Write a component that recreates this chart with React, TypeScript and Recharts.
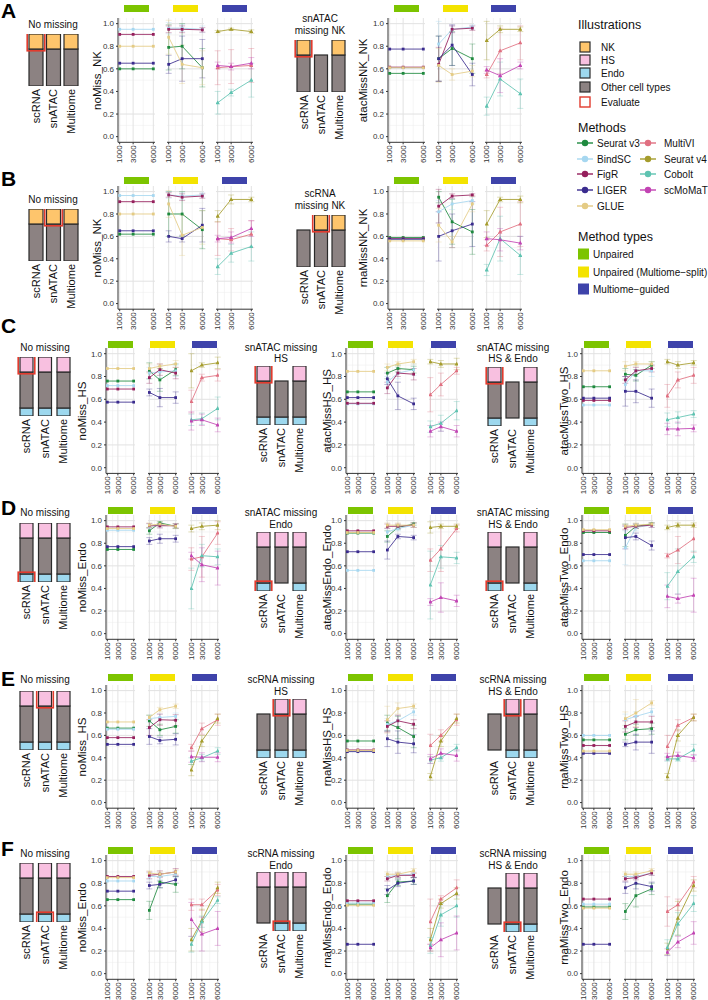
import React from "react";
import { LineChart, Line, XAxis, YAxis, CartesianGrid, ErrorBar, BarChart, Bar } from "recharts";

// cells per sample (x axis of every facet)
const SIZES = [1000, 3000, 6000];
const Y_MAJOR = [0, 0.2, 0.4, 0.6, 0.8, 1.0];
const Y_MINOR = [0.1, 0.3, 0.5, 0.7, 0.9];
const X_MINOR = [2000, 4500];

const UNPAIRED = ["Seurat v3", "BindSC", "FigR", "LIGER", "GLUE"];
const GUIDED = ["MultiVI", "Seurat v4", "Cobolt", "scMoMaT"];
const UNPAIRED_COLORS = ["#1f8a3f", "#a6d7f0", "#951f5c", "#3a2b8e", "#e4cb84"];
const GUIDED_COLORS = ["#e06f80", "#a59c2c", "#5ec3b1", "#c243b3"];
const METHOD_TYPES = ["Unpaired", "Unpaired (Multiome\u2212split)", "Multiome\u2212guided"];
const TYPE_COLORS = ["#7cc400", "#f3e300", "#3e43aa"];

const MODALITIES = ["scRNA", "snATAC", "Multiome"];
const ILLUSTRATIONS = ["NK", "HS", "Endo", "Other cell types"];
const ILLU_COLORS = ["#fec56c", "#f8c0e0", "#9dd8ee", "#8c8282"];
const EVAL_RED = "#e23b2e";
// illustration stack units: [Endo, Other, top cell type]
const SEG_HS = [8, 36, 15];
const SEG_NK = [0, 37, 15];

// ---- A: noMiss_NK / atacMissNK_NK
const a1Unpaired = [0.60, 0.95, 0.905, 0.65, 0.80];
const a1Split = [[0.79, 0.80, 0.61], [0.96, 0.96, 0.95], [0.95, 0.95, 0.945], [0.64, 0.69, 0.69], [0.88, 0.64, 0.61]];
const a1SplitErr = [[0.2, 0.2, 0.17], [0.05, 0.03, 0.03], [0.03, 0.03, 0.02], [0.08, 0.2, 0.17], [0.15, 0.17, 0.15]];
const a1Guided = [[0.61, 0.62, 0.63], [0.93, 0.95, 0.93], [0.30, 0.39, 0.50], [0.63, 0.62, 0.65]];
const a1GuidedErr = [[0.15, 0.15, 0.15], [0.01, 0.01, 0.015], [0.1, 0.03, 0.15], [0.03, 0.03, 0.05]];

const a2Unpaired = [0.56, 0.61, 0.615, 0.775, 0.61];
const a2Split = [[0.69, 0.78, 0.69], [0.82, 0.95, 0.97], [0.64, 0.95, 0.96], [0.69, 0.81, 0.55], [0.63, 0.55, 0.58]];
const a2SplitErr = [[0.2, 0.15, 0.13], [0.2, 0.03, 0.02], [0.15, 0.03, 0.02], [0.2, 0.18, 0.1], [0.15, 0.05, 0.05]];
const a2Guided = [[0.55, 0.76, 0.83], [0.85, 0.95, 0.95], [0.27, 0.51, 0.38], [0.59, 0.54, 0.63]];
const a2GuidedErr = [[0.03, 0.2, 0.15], [0.17, 0.03, 0.02], [0.08, 0.15, 0.13], [0.03, 0.15, 0.03]];

// ---- B: noMiss_NK / rnaMissNK_NK
const b1Unpaired = [0.62, 0.965, 0.91, 0.65, 0.80];
const b1Split = [[0.80, 0.80, 0.66], [0.97, 0.96, 0.97], [0.97, 0.95, 0.96], [0.60, 0.58, 0.70], [0.89, 0.61, 0.68]];
const b1SplitErr = [[0.2, 0.2, 0.17], [0.03, 0.03, 0.02], [0.02, 0.03, 0.02], [0.05, 0.03, 0.15], [0.12, 0.18, 0.15]];
const b1Guided = [[0.58, 0.57, 0.62], [0.78, 0.93, 0.93], [0.33, 0.45, 0.51], [0.58, 0.59, 0.67]];
const b1GuidedErr = [[0.15, 0.1, 0.12], [0.05, 0.04, 0.02], [0.07, 0.08, 0.13], [0.03, 0.05, 0.07]];

const b2Unpaired = [0.59, 0.575, 0.58, 0.575, 0.56];
const b2Split = [[0.95, 0.73, 0.64], [0.82, 0.89, 0.92], [0.87, 0.96, 0.97], [0.60, 0.65, 0.71], [0.70, 0.55, 0.89]];
const b2SplitErr = [[0.05, 0.2, 0.2], [0.1, 0.05, 0.03], [0.15, 0.02, 0.01], [0.22, 0.15, 0.2], [0.15, 0.05, 0.07]];
const b2Guided = [[0.52, 0.64, 0.71], [0.71, 0.93, 0.93], [0.30, 0.58, 0.43], [0.58, 0.57, 0.54]];
const b2GuidedErr = [[0.05, 0.22, 0.2], [0.12, 0.02, 0.03], [0.05, 0.2, 0.17], [0.06, 0.1, 0.06]];

// ---- C: HS, snATAC missing
const c1Unpaired = [0.76, 0.72, 0.69, 0.575, 0.87];
const c1Split = [[0.85, 0.77, 0.86], [0.83, 0.84, 0.85], [0.79, 0.86, 0.83], [0.66, 0.615, 0.615], [0.87, 0.89, 0.91]];
const c1SplitErr = [[0.07, 0.1, 0.05], [0.05, 0.05, 0.05], [0.05, 0.05, 0.05], [0.03, 0.08, 0.05], [0.04, 0.02, 0.03]];
const c1Guided = [[0.58, 0.79, 0.81], [0.85, 0.90, 0.92], [0.42, 0.43, 0.52], [0.41, 0.42, 0.375]];
const c1GuidedErr = [[0.1, 0.03, 0.05], [0.15, 0.02, 0.05], [0.05, 0.05, 0.1], [0.08, 0.05, 0.06]];

const c2Unpaired = [0.665, 0.56, 0.565, 0.615, 0.845];
const c2Split = [[0.83, 0.87, 0.86], [0.75, 0.83, 0.86], [0.70, 0.83, 0.82], [0.78, 0.63, 0.56], [0.88, 0.91, 0.93]];
const c2SplitErr = [[0.05, 0.03, 0.03], [0.05, 0.05, 0.05], [0.05, 0.03, 0.05], [0.05, 0.12, 0.05], [0.03, 0.02, 0.02]];
const c2Guided = [[0.64, 0.73, 0.85], [0.93, 0.91, 0.91], [0.36, 0.39, 0.50], [0.32, 0.36, 0.32]];
const c2GuidedErr = [[0.15, 0.1, 0.03], [0.02, 0.03, 0.05], [0.05, 0.07, 0.08], [0.05, 0.04, 0.05]];

const c3Unpaired = [0.71, 0.55, 0.59, 0.61, 0.85];
const c3Split = [[0.82, 0.81, 0.90], [0.73, 0.85, 0.85], [0.77, 0.85, 0.87], [0.67, 0.67, 0.61], [0.89, 0.91, 0.91]];
const c3SplitErr = [[0.05, 0.05, 0.03], [0.05, 0.05, 0.05], [0.03, 0.03, 0.03], [0.13, 0.1, 0.08], [0.04, 0.02, 0.02]];
const c3Guided = [[0.63, 0.77, 0.81], [0.93, 0.90, 0.92], [0.42, 0.44, 0.47], [0.34, 0.34, 0.345]];
const c3GuidedErr = [[0.1, 0.07, 0.07], [0.02, 0.03, 0.02], [0.06, 0.05, 0.03], [0.05, 0.06, 0.03]];

// ---- D: Endo, snATAC missing
const d1Unpaired = [0.745, 0.915, 0.945, 0.77, 0.93];
const d1Split = [[0.91, 0.98, 0.95], [0.95, 0.96, 0.955], [0.955, 0.955, 0.955], [0.82, 0.84, 0.84], [0.96, 0.97, 0.95]];
const d1SplitErr = [[0.03, 0.01, 0.02], [0.02, 0.02, 0.02], [0.02, 0.02, 0.02], [0.03, 0.04, 0.03], [0.02, 0.02, 0.02]];
const d1Guided = [[0.66, 0.68, 0.89], [0.93, 0.95, 0.96], [0.40, 0.69, 0.68], [0.69, 0.61, 0.58]];
const d1GuidedErr = [[0.1, 0.18, 0.1], [0.03, 0.03, 0.04], [0.18, 0.1, 0.07], [0.03, 0.15, 0.15]];

const d2Unpaired = [0.89, 0.56, 0.91, 0.725, 0.895];
const d2Split = [[0.86, 0.94, 0.97], [0.90, 0.93, 0.96], [0.95, 0.95, 0.96], [0.74, 0.86, 0.85], [0.96, 0.96, 0.96]];
const d2SplitErr = [[0.05, 0.02, 0.01], [0.03, 0.02, 0.02], [0.02, 0.02, 0.02], [0.08, 0.02, 0.02], [0.02, 0.02, 0.02]];
const d2Guided = [[0.65, 0.75, 0.93], [0.94, 0.95, 0.95], [0.43, 0.68, 0.67], [0.28, 0.32, 0.29]];
const d2GuidedErr = [[0.1, 0.2, 0.03], [0.05, 0.02, 0.02], [0.3, 0.1, 0.05], [0.03, 0.13, 0.05]];

const d3Unpaired = [0.895, 0.645, 0.91, 0.70, 0.92];
const d3Split = [[0.87, 0.95, 0.97], [0.76, 0.94, 0.96], [0.94, 0.95, 0.96], [0.85, 0.86, 0.78], [0.95, 0.96, 0.97]];
const d3SplitErr = [[0.1, 0.02, 0.01], [0.15, 0.03, 0.02], [0.02, 0.02, 0.02], [0.1, 0.03, 0.04], [0.02, 0.02, 0.01]];
const d3Guided = [[0.69, 0.74, 0.84], [0.94, 0.96, 0.96], [0.42, 0.55, 0.68], [0.33, 0.31, 0.34]];
const d3GuidedErr = [[0.02, 0.12, 0.12], [0.02, 0.02, 0.02], [0.12, 0.2, 0.05], [0.1, 0.04, 0.15]];

// ---- E: HS, scRNA missing
const e1Unpaired = [0.665, 0.655, 0.58, 0.52, 0.72];
const e1Split = [[0.73, 0.65, 0.68], [0.75, 0.76, 0.77], [0.67, 0.74, 0.735], [0.59, 0.555, 0.565], [0.76, 0.83, 0.86]];
const e1SplitErr = [[0.05, 0.05, 0.06], [0.03, 0.03, 0.03], [0.07, 0.05, 0.05], [0.07, 0.03, 0.05], [0.02, 0.02, 0.02]];
const e1Guided = [[0.49, 0.66, 0.74], [0.29, 0.55, 0.75], [0.37, 0.40, 0.46], [0.41, 0.405, 0.405]];
const e1GuidedErr = [[0.03, 0.05, 0.05], [0.05, 0.05, 0.04], [0.03, 0.03, 0.03], [0.05, 0.04, 0.04]];

const e2Unpaired = [0.55, 0.46, 0.47, 0.455, 0.465];
const e2Split = [[0.71, 0.67, 0.59], [0.70, 0.73, 0.81], [0.68, 0.73, 0.70], [0.57, 0.54, 0.525], [0.74, 0.84, 0.86]];
const e2SplitErr = [[0.07, 0.1, 0.1], [0.05, 0.05, 0.03], [0.05, 0.05, 0.04], [0.07, 0.1, 0.08], [0.12, 0.05, 0.02]];
const e2Guided = [[0.51, 0.60, 0.74], [0.23, 0.55, 0.75], [0.38, 0.40, 0.49], [0.39, 0.44, 0.42]];
const e2GuidedErr = [[0.1, 0.05, 0.05], [0.03, 0.05, 0.04], [0.03, 0.03, 0.03], [0.04, 0.04, 0.05]];

const e3Unpaired = [0.56, 0.60, 0.51, 0.44, 0.46];
const e3Split = [[0.61, 0.65, 0.66], [0.74, 0.77, 0.81], [0.68, 0.72, 0.72], [0.52, 0.54, 0.54], [0.75, 0.80, 0.89]];
const e3SplitErr = [[0.05, 0.05, 0.05], [0.05, 0.04, 0.03], [0.05, 0.05, 0.05], [0.02, 0.07, 0.1], [0.06, 0.12, 0.02]];
const e3Guided = [[0.50, 0.69, 0.76], [0.23, 0.60, 0.76], [0.39, 0.39, 0.47], [0.41, 0.42, 0.40]];
const e3GuidedErr = [[0.1, 0.05, 0.03], [0.03, 0.05, 0.03], [0.02, 0.02, 0.05], [0.03, 0.03, 0.03]];

// ---- F: Endo, scRNA missing
const f1Unpaired = [0.655, 0.82, 0.86, 0.73, 0.85];
const f1Split = [[0.56, 0.81, 0.79], [0.86, 0.86, 0.88], [0.87, 0.88, 0.90], [0.78, 0.79, 0.83], [0.89, 0.88, 0.90]];
const f1SplitErr = [[0.08, 0.05, 0.07], [0.03, 0.03, 0.03], [0.03, 0.03, 0.03], [0.03, 0.03, 0.03], [0.02, 0.02, 0.02]];
const f1Guided = [[0.61, 0.61, 0.74], [0.30, 0.47, 0.76], [0.26, 0.46, 0.65], [0.48, 0.35, 0.40]];
const f1GuidedErr = [[0.05, 0.05, 0.05], [0.1, 0.1, 0.05], [0.07, 0.05, 0.03], [0.15, 0.15, 0.15]];

const f2Unpaired = [0.615, 0.625, 0.645, 0.26, 0.605];
const f2Split = [[0.69, 0.81, 0.82], [0.86, 0.87, 0.88], [0.84, 0.87, 0.87], [0.74, 0.80, 0.82], [0.88, 0.88, 0.91]];
const f2SplitErr = [[0.06, 0.03, 0.03], [0.02, 0.02, 0.02], [0.02, 0.02, 0.02], [0.04, 0.03, 0.03], [0.02, 0.02, 0.02]];
const f2Guided = [[0.46, 0.66, 0.76], [0.30, 0.62, 0.71], [0.25, 0.52, 0.60], [0.23, 0.30, 0.36]];
const f2GuidedErr = [[0.2, 0.03, 0.07], [0.1, 0.04, 0.05], [0.07, 0.1, 0.1], [0.03, 0.15, 0.15]];

const f3Unpaired = [0.59, 0.615, 0.66, 0.26, 0.58];
const f3Split = [[0.55, 0.69, 0.75], [0.86, 0.86, 0.89], [0.84, 0.85, 0.89], [0.76, 0.80, 0.77], [0.88, 0.88, 0.91]];
const f3SplitErr = [[0.07, 0.1, 0.05], [0.02, 0.02, 0.02], [0.02, 0.02, 0.02], [0.05, 0.05, 0.04], [0.02, 0.02, 0.02]];
const f3Guided = [[0.55, 0.61, 0.81], [0.22, 0.49, 0.78], [0.23, 0.44, 0.62], [0.19, 0.28, 0.36]];
const f3GuidedErr = [[0.13, 0.05, 0.05], [0.05, 0.15, 0.05], [0.07, 0.1, 0.07], [0.03, 0.05, 0.1]];

// layout
const ROWS = [
  { label: "A", labelY: 18, y1: 24, y0: 137, strip: 5 },
  { label: "B", labelY: 186, y1: 192, y0: 304, strip: 177 },
  { label: "C", labelY: 333, y1: 354, y0: 468, strip: 341 },
  { label: "D", labelY: 515, y1: 521, y0: 634, strip: 507 },
  { label: "E", labelY: 686, y1: 691, y0: 803, strip: 674 },
  { label: "F", labelY: 856, y1: 861, y0: 974, strip: 847 },
];
const AB1 = { yLabelX: 97, facets: [118, 167, 216], fw: 37, bars: [35.5, 52.5, 70.5], barW: 14, titleX: 53 };
const AB2 = { yLabelX: 363, facets: [388, 436.5, 485], fw: 37, bars: [303.5, 320.5, 338.5], barW: 13, titleX: 320 };
const CF1 = { yLabelX: 82, facets: [106, 148, 190], fw: 29, bars: [26, 44.5, 63], barW: 13, titleX: 45 };
const CF2 = { yLabelX: 327, facets: [345.5, 386, 428.5], fw: 29, bars: [263, 281, 299], barW: 13, titleX: 281 };
const CF3 = { yLabelX: 564, facets: [581.5, 623.5, 665.5], fw: 29, bars: [494, 512, 530], barW: 13, titleX: 513 };

const PANELS = [
  { row: 0, col: AB1, yLabel: "noMiss_NK", title: ["No missing"], titleY: [24], top: 34, kind: "NK", missing: {}, evaluate: ["scRNA", "top"], data: [a1Unpaired, a1Split, a1SplitErr, a1Guided, a1GuidedErr] },
  { row: 0, col: AB2, yLabel: "atacMissNK_NK", title: ["snATAC", "missing NK"], titleY: [18, 30], top: 40, kind: "NK", missing: { snATAC: ["top"] }, evaluate: ["scRNA", "top"], data: [a2Unpaired, a2Split, a2SplitErr, a2Guided, a2GuidedErr] },
  { row: 1, col: AB1, yLabel: "noMiss_NK", title: ["No missing"], titleY: [199], top: 209, kind: "NK", missing: {}, evaluate: ["snATAC", "top"], data: [b1Unpaired, b1Split, b1SplitErr, b1Guided, b1GuidedErr] },
  { row: 1, col: AB2, yLabel: "rnaMissNK_NK", title: ["scRNA", "missing NK"], titleY: [193, 205], top: 215, kind: "NK", missing: { scRNA: ["top"] }, evaluate: ["snATAC", "top"], data: [b2Unpaired, b2Split, b2SplitErr, b2Guided, b2GuidedErr] },
  { row: 2, col: CF1, yLabel: "noMiss_HS", title: ["No missing"], titleY: [347], top: 357, kind: "HS", missing: {}, evaluate: ["scRNA", "top"], data: [c1Unpaired, c1Split, c1SplitErr, c1Guided, c1GuidedErr] },
  { row: 2, col: CF2, yLabel: "atacMissHS_HS", title: ["snATAC missing", "HS"], titleY: [347, 358], top: 366, kind: "HS", missing: { snATAC: ["top"] }, evaluate: ["scRNA", "top"], data: [c2Unpaired, c2Split, c2SplitErr, c2Guided, c2GuidedErr] },
  { row: 2, col: CF3, yLabel: "atacMissTwo_HS", title: ["snATAC missing", "HS & Endo"], titleY: [347, 358], top: 367, kind: "HS", missing: { snATAC: ["top", "endo"] }, evaluate: ["scRNA", "top"], data: [c3Unpaired, c3Split, c3SplitErr, c3Guided, c3GuidedErr] },
  { row: 3, col: CF1, yLabel: "noMiss_Endo", title: ["No missing"], titleY: [512], top: 523, kind: "HS", missing: {}, evaluate: ["scRNA", "endo"], data: [d1Unpaired, d1Split, d1SplitErr, d1Guided, d1GuidedErr] },
  { row: 3, col: CF2, yLabel: "atacMissEndo_Endo", title: ["snATAC missing", "Endo"], titleY: [512, 524], top: 532, kind: "HS", missing: { snATAC: ["endo"] }, evaluate: ["scRNA", "endo"], data: [d2Unpaired, d2Split, d2SplitErr, d2Guided, d2GuidedErr] },
  { row: 3, col: CF3, yLabel: "atacMissTwo_Endo", title: ["snATAC missing", "HS & Endo"], titleY: [512, 524], top: 532, kind: "HS", missing: { snATAC: ["top", "endo"] }, evaluate: ["scRNA", "endo"], data: [d3Unpaired, d3Split, d3SplitErr, d3Guided, d3GuidedErr] },
  { row: 4, col: CF1, yLabel: "noMiss_HS", title: ["No missing"], titleY: [679], top: 691, kind: "HS", missing: {}, evaluate: ["snATAC", "top"], data: [e1Unpaired, e1Split, e1SplitErr, e1Guided, e1GuidedErr] },
  { row: 4, col: CF2, yLabel: "rnaMissHS_HS", title: ["scRNA missing", "HS"], titleY: [679, 691], top: 699, kind: "HS", missing: { scRNA: ["top"] }, evaluate: ["snATAC", "top"], data: [e2Unpaired, e2Split, e2SplitErr, e2Guided, e2GuidedErr] },
  { row: 4, col: CF3, yLabel: "rnaMissTwo_HS", title: ["scRNA missing", "HS & Endo"], titleY: [679, 691], top: 699, kind: "HS", missing: { scRNA: ["top", "endo"] }, evaluate: ["snATAC", "top"], data: [e3Unpaired, e3Split, e3SplitErr, e3Guided, e3GuidedErr] },
  { row: 5, col: CF1, yLabel: "noMiss_Endo", title: ["No missing"], titleY: [853], top: 863, kind: "HS", missing: {}, evaluate: ["snATAC", "endo"], data: [f1Unpaired, f1Split, f1SplitErr, f1Guided, f1GuidedErr] },
  { row: 5, col: CF2, yLabel: "rnaMissEndo_Endo", title: ["scRNA missing", "Endo"], titleY: [853, 865], top: 872, kind: "HS", missing: { scRNA: ["endo"] }, evaluate: ["snATAC", "endo"], data: [f2Unpaired, f2Split, f2SplitErr, f2Guided, f2GuidedErr] },
  { row: 5, col: CF3, yLabel: "rnaMissTwo_Endo", title: ["scRNA missing", "HS & Endo"], titleY: [853, 865], top: 873, kind: "HS", missing: { scRNA: ["top", "endo"] }, evaluate: ["snATAC", "endo"], data: [f3Unpaired, f3Split, f3SplitErr, f3Guided, f3GuidedErr] },
];

const FONT = "'Liberation Sans', Arial, Helvetica, sans-serif";

function constRows(vals: number[]) {
  return SIZES.map((s) => {
    const r: any = { size: s };
    vals.forEach((v, i) => (r["m" + i] = v));
    return r;
  });
}
function seriesRows(vals: number[][], errs: number[][]) {
  return SIZES.map((s, j) => {
    const r: any = { size: s };
    vals.forEach((v, i) => {
      r["m" + i] = v[j];
      r["e" + i] = errs[i][j];
    });
    return r;
  });
}

const dotRenderer = (c: string, tri: boolean) => (p: any) => {
  const { cx, cy, index } = p;
  if (cx == null || cy == null) return <g key={index} />;
  if (tri) return <path key={index} d={`M${cx},${cy - 2.3}L${cx + 2.2},${cy + 1.5}L${cx - 2.2},${cy + 1.5}Z`} fill={c} />;
  return <rect key={index} x={cx - 1.4} y={cy - 1.4} width={2.8} height={2.8} fill={c} />;
};

const xTick = (p: any) => (
  <text key={p.index} transform={`translate(${p.x},${p.y}) rotate(-90)`} textAnchor="end" dy="0.33em" fontSize={8} fill="#333">
    {p.payload.value}
  </text>
);

function Facet({ x, top, w, h, rows, colors, tri, withErr, showY }: any) {
  const yW = showY ? 20 : 0;
  const xH = 26;
  return (
    <div style={{ position: "absolute", left: x - yW, top }}>
      <LineChart width={w + yW} height={h + xH} data={rows} margin={{ top: 0, right: 0, bottom: 0, left: 0 }}>
        <CartesianGrid horizontalValues={Y_MINOR} verticalValues={X_MINOR} stroke="#eeeeee" strokeWidth={0.6} />
        <CartesianGrid horizontalValues={Y_MAJOR} verticalValues={SIZES} stroke="#e2e2e2" strokeWidth={1} />
        <XAxis
          type="number" dataKey="size" domain={[750, 6250]} ticks={SIZES} interval={0} allowDataOverflow
          height={xH} tickSize={2} tickMargin={1} tick={xTick}
          axisLine={{ stroke: "#333", strokeWidth: 1 }} tickLine={{ stroke: "#333" }}
        />
        <YAxis
          type="number" domain={[-0.05, 1.05]} ticks={Y_MAJOR} allowDataOverflow hide={!showY} width={yW}
          tickSize={2} tickMargin={2} tick={{ fontSize: 8, fill: "#333" }}
          tickFormatter={(v: number) => v.toFixed(1)}
          axisLine={{ stroke: "#333", strokeWidth: 1 }} tickLine={{ stroke: "#333" }}
        />
        {colors.map((c: string, i: number) => (
          <Line
            key={i} dataKey={"m" + i} stroke={c} strokeWidth={1} strokeOpacity={0.85}
            dot={dotRenderer(c, tri)} activeDot={false} isAnimationActive={false}
          >
            {withErr && (
              <ErrorBar dataKey={"e" + i} width={3} stroke={c} strokeWidth={0.6} strokeOpacity={0.55} direction="y" isAnimationActive={false} />
            )}
          </Line>
        ))}
      </LineChart>
    </div>
  );
}

function Schematic({ cx, barW, top, kind, missing, evaluate }: any) {
  const seg = kind === "NK" ? SEG_NK : SEG_HS;
  const total = seg[0] + seg[1] + seg[2];
  const spacing = (cx[2] - cx[0]) / 2;
  const left = cx[0] - spacing / 2;
  const topColor = kind === "NK" ? ILLU_COLORS[0] : ILLU_COLORS[1];
  const data = MODALITIES.map((m) => ({
    name: m, endo: seg[0], other: seg[1], top: seg[2],
    miss: missing[m] || [], evalSeg: evaluate[0] === m ? evaluate[1] : null,
  }));
  const fills: any = { endo: ILLU_COLORS[2], other: ILLU_COLORS[3], top: topColor };
  const segShape = (key: string) => (p: any) => {
    const { x, y, width, height, payload } = p;
    if (!height || payload.miss.includes(key)) return <g />;
    return <rect x={x} y={y} width={width} height={height} fill={fills[key]} stroke="#2a2a2a" strokeWidth={1.2} />;
  };
  const redShape = (key: string) => (p: any) => {
    const { x, y, width, height, payload } = p;
    if (!height || payload.evalSeg !== key) return <g />;
    return <rect x={x - 1.8} y={y - 1.8} width={width + 3.6} height={height + 3.6} fill="none" stroke={EVAL_RED} strokeWidth={1.6} />;
  };
  const keys = ["endo", "other", "top"];
  return (
    <>
      <div style={{ position: "absolute", left, top }}>
        <BarChart width={spacing * 3} height={total + 50} data={data} margin={{ top: 0, right: 0, bottom: 0, left: 0 }} barSize={barW}>
          <XAxis
            dataKey="name" interval={0} height={50} tickSize={0} tickMargin={3} axisLine={false} tickLine={false}
            tick={(p: any) => (
              <text key={p.index} transform={`translate(${p.x},${p.y}) rotate(-90)`} textAnchor="end" dy="0.35em" fontSize={11} fill="#111">
                {p.payload.value}
              </text>
            )}
          />
          <YAxis hide domain={[0, total]} allowDataOverflow />
          {keys.map((k) => (
            <Bar key={k} dataKey={k} stackId="s" shape={segShape(k)} isAnimationActive={false} />
          ))}
        </BarChart>
      </div>
      <div style={{ position: "absolute", left, top }}>
        <BarChart width={spacing * 3} height={total} data={data} margin={{ top: 0, right: 0, bottom: 0, left: 0 }} barSize={barW}>
          <XAxis dataKey="name" hide />
          <YAxis hide domain={[0, total]} allowDataOverflow />
          {keys.map((k) => (
            <Bar key={k} dataKey={k} stackId="s" shape={redShape(k)} isAnimationActive={false} />
          ))}
        </BarChart>
      </div>
    </>
  );
}

function Panel({ p }: any) {
  const row = ROWS[p.row];
  const col = p.col;
  const d = row.y0 - row.y1;
  const plotTop = row.y1 - 0.05 * d;
  const plotH = 1.1 * d;
  const [unp, split, splitErr, guided, guidedErr] = p.data;
  const facets = [
    { rows: constRows(unp), colors: UNPAIRED_COLORS, tri: false, withErr: false },
    { rows: seriesRows(split, splitErr), colors: UNPAIRED_COLORS, tri: false, withErr: true },
    { rows: seriesRows(guided, guidedErr), colors: GUIDED_COLORS, tri: true, withErr: true },
  ];
  return (
    <>
      <Schematic cx={col.bars} barW={col.barW} top={p.top} kind={p.kind} missing={p.missing} evaluate={p.evaluate} />
      {facets.map((f, i) => (
        <React.Fragment key={i}>
          <div
            style={{
              position: "absolute", left: col.facets[i] + col.fw / 2 - 12.5, top: row.strip,
              width: 25, height: 7, background: TYPE_COLORS[i],
            }}
          />
          <Facet x={col.facets[i]} top={plotTop} w={col.fw} h={plotH} rows={f.rows} colors={f.colors} tri={f.tri} withErr={f.withErr} showY={i === 0} />
        </React.Fragment>
      ))}
    </>
  );
}

function Texts() {
  return (
    <svg width={708} height={1000} style={{ position: "absolute", left: 0, top: 0, pointerEvents: "none" }} fontFamily={FONT}>
      {ROWS.map((r) => (
        <text key={r.label} x={1} y={r.labelY} fontSize={21} fontWeight="bold" fill="#000">{r.label}</text>
      ))}
      {PANELS.map((p, i) => {
        const row = ROWS[p.row];
        const cy = (row.y0 + row.y1) / 2;
        return (
          <g key={i}>
            {p.title.map((t, j) => (
              <text key={j} x={p.col.titleX} y={p.titleY[j]} dy="0.35em" textAnchor="middle" fontSize={10} fill="#111">{t}</text>
            ))}
            <text transform={`translate(${p.col.yLabelX},${cy}) rotate(-90)`} textAnchor="middle" dy="0.35em" fontSize={11.5} fill="#111">
              {p.yLabel}
            </text>
          </g>
        );
      })}
      {/* legend */}
      <text x={578} y={25} dy="0.35em" fontSize={12.5} fill="#111">Illustrations</text>
      {ILLUSTRATIONS.map((name, i) => (
        <g key={name}>
          <rect x={580} y={[47, 60, 73, 87][i] - 5} width={10} height={10} fill={ILLU_COLORS[i]} stroke="#2a2a2a" strokeWidth={1.2} />
          <text x={601} y={[47, 60, 73, 87][i]} dy="0.35em" fontSize={10} fill="#111">{name}</text>
        </g>
      ))}
      <rect x={580} y={97} width={10} height={10} fill="none" stroke={EVAL_RED} strokeWidth={1.4} />
      <text x={601} y={102} dy="0.35em" fontSize={10} fill="#111">Evaluate</text>

      <text x={578} y={128} dy="0.35em" fontSize={12.5} fill="#111">Methods</text>
      {UNPAIRED.map((m, i) => {
        const y = [143, 159, 174, 190, 206][i];
        return (
          <g key={m}>
            <line x1={577} x2={593} y1={y} y2={y} stroke={UNPAIRED_COLORS[i]} strokeWidth={1.4} />
            <circle cx={585} cy={y} r={3.2} fill={UNPAIRED_COLORS[i]} />
            <text x={597} y={y} dy="0.35em" fontSize={10} fill="#111">{m}</text>
          </g>
        );
      })}
      {GUIDED.map((m, i) => {
        const y = [143, 159, 174, 190][i];
        return (
          <g key={m}>
            <line x1={640} x2={656} y1={y} y2={y} stroke={GUIDED_COLORS[i]} strokeWidth={1.4} />
            <circle cx={648} cy={y} r={3.2} fill={GUIDED_COLORS[i]} />
            <text x={664} y={y} dy="0.35em" fontSize={10} fill="#111">{m}</text>
          </g>
        );
      })}

      <text x={578} y={237} dy="0.35em" fontSize={12.5} fill="#111">Method types</text>
      {METHOD_TYPES.map((t, i) => {
        const y = [254, 272, 289][i];
        return (
          <g key={t}>
            <rect x={578} y={y - 5.5} width={11} height={11} fill={TYPE_COLORS[i]} />
            <text x={593} y={y} dy="0.35em" fontSize={10} fill="#111">{t}</text>
          </g>
        );
      })}
    </svg>
  );
}

export default function App() {
  return (
    <div style={{ position: "absolute", left: 0, top: 0, width: 708, height: 1000, background: "#fff", fontFamily: FONT, overflow: "hidden" }}>
      <style>{`.recharts-surface { overflow: visible; } .recharts-wrapper { overflow: visible; }`}</style>
      {PANELS.map((p, i) => (
        <Panel key={i} p={p} />
      ))}
      <Texts />
    </div>
  );
}
